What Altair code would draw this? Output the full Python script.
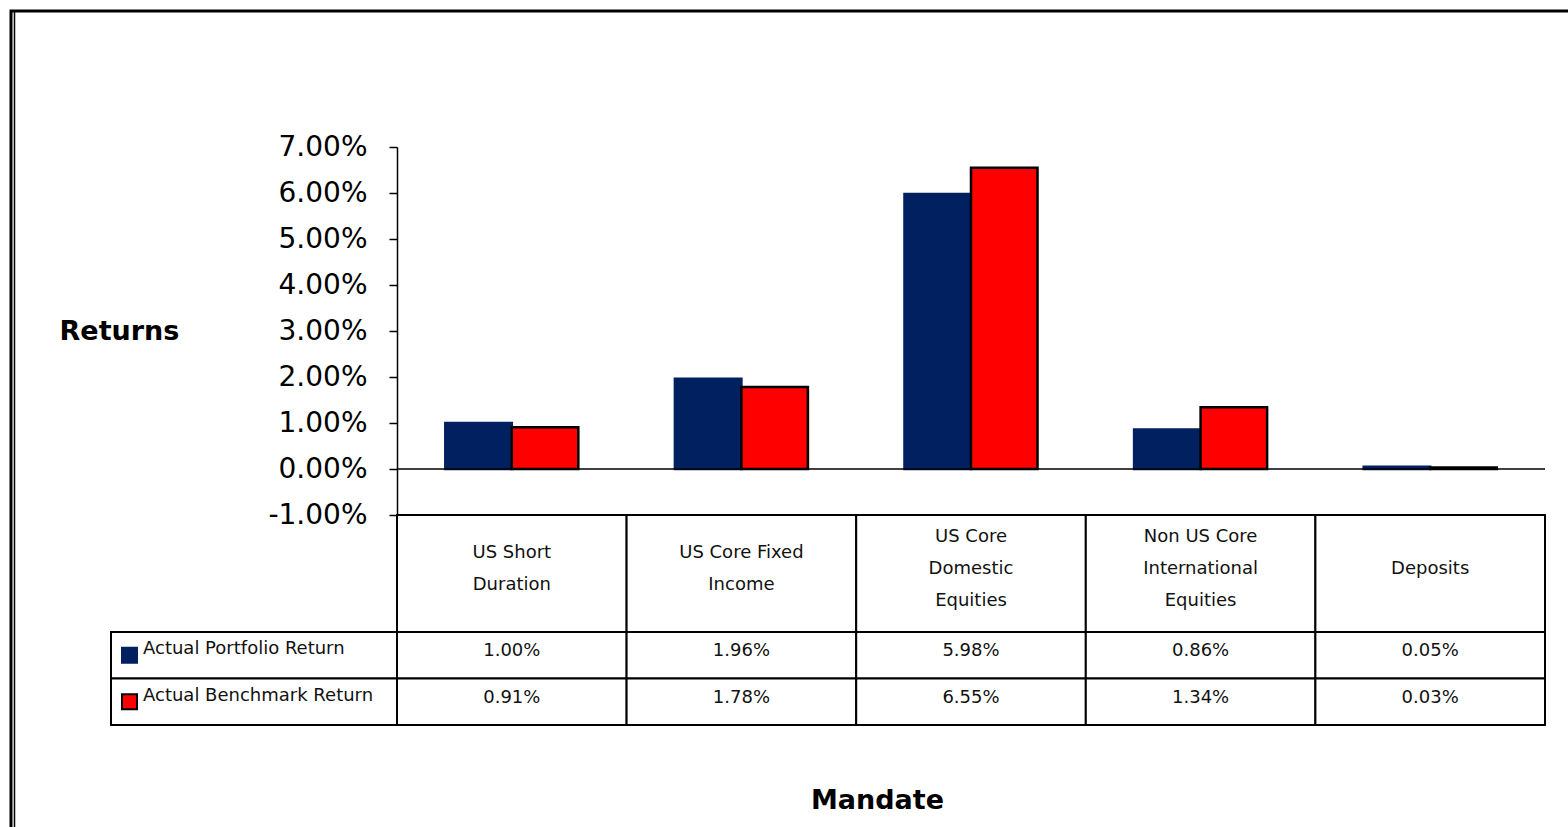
import altair as alt
import pandas as pd

categories = ["US Short Duration", "US Core Fixed Income", "US Core Domestic Equities",
              "Non US Core International Equities", "Deposits"]
category_lines = ["US Short\nDuration", "US Core Fixed\nIncome", "US Core\nDomestic\nEquities",
                  "Non US Core\nInternational\nEquities", "Deposits"]
series = ["Actual Portfolio Return", "Actual Benchmark Return"]
portfolio = [1.00, 1.96, 5.98, 0.86, 0.05]
benchmark = [0.91, 1.78, 6.55, 1.34, 0.03]
y_ticks = [-1, 0, 1, 2, 3, 4, 5, 6, 7]

W, H = 1148, 578
BAR_H = 368
HEAD_END = 485
LINE_H = 32
FONT = "DejaVu Sans"

rows = []
for i, c in enumerate(categories):
    rows.append({"category": c, "series": series[0], "value": portfolio[i]})
    rows.append({"category": c, "series": series[1], "value": benchmark[i]})
df = pd.DataFrame(rows)
head_df = pd.DataFrame({
    "category": categories,
    "label": category_lines,
    "nlines": [s.count("\n") + 1 for s in category_lines],
    "row": ["header"] * len(categories),
})
legend_df = pd.DataFrame({"series": series, "col": ["legend"] * len(series)})
zero_df = pd.DataFrame({"v": [0]})
frame_df = pd.DataFrame({"k": [0]})

x_scale = alt.Scale(domain=categories, paddingInner=0, paddingOuter=0)
y_bar_scale = alt.Scale(domain=[-1, 7], range=[BAR_H, 0], nice=False, zero=False)
head_scale = alt.Scale(domain=["header"], range=[BAR_H, HEAD_END], paddingInner=0, paddingOuter=0)
row_scale = alt.Scale(domain=series, range=[HEAD_END, H], paddingInner=0, paddingOuter=0)
leg_scale = alt.Scale(domain=["legend"], range=[-286, 0], paddingInner=0, paddingOuter=0)
sq_scale = alt.Scale(domain=["legend"], range=[-286, -249], paddingInner=0, paddingOuter=0)
color_scale = alt.Scale(domain=series, range=["#002060", "#FF0000"])
stroke_scale = alt.Scale(domain=series, range=["#002060", "#000000"])

frame = alt.Chart(frame_df).mark_rect(fillOpacity=0, stroke="black", strokeWidth=3).encode(
    x=alt.value(-386), y=alt.value(-136), x2=alt.value(W + 80), y2=alt.value(H + 160))
inner = alt.Chart(frame_df).mark_rule(color="black", strokeWidth=1.5).encode(
    x=alt.value(-382.5), y=alt.value(-135), y2=alt.value(H + 160))

bars = alt.Chart(df).mark_bar(strokeWidth=2.5).encode(
    x=alt.X("category:N", scale=x_scale, axis=None),
    xOffset=alt.XOffset("series:N", scale=alt.Scale(domain=series, paddingInner=0, paddingOuter=0.726)),
    y=alt.Y("value:Q", scale=y_bar_scale,
            axis=alt.Axis(values=y_ticks,
                          labelExpr="(datum.value < 0 ? '-' : '') + format(abs(datum.value), '.2f') + '%'",
                          labelFont=FONT, labelFontSize=28, labelColor="black", labelPadding=22,
                          tickSize=8, tickColor="black", tickWidth=1.5,
                          domainColor="black", domainWidth=1.5, grid=False,
                          title="Returns", titleAngle=0, titleX=-278, titleY=184,
                          titleAlign="center", titleBaseline="middle", titleFont=FONT,
                          titleFontSize=27, titleFontWeight="bold", titleColor="black")),
    color=alt.Color("series:N", scale=color_scale, legend=None),
    stroke=alt.Stroke("series:N", scale=stroke_scale, legend=None),
)

zero = alt.Chart(zero_df).mark_rule(color="black", strokeWidth=1.5).encode(
    y=alt.Y("v:Q", scale=y_bar_scale, axis=None))

cell_style = dict(fill="white", stroke="black", strokeWidth=2)
text_style = dict(font=FONT, fontSize=18, color="#111111")

head_rect = alt.Chart(head_df).mark_rect(**cell_style).encode(
    x=alt.X("category:N", scale=x_scale, axis=None),
    y=alt.Y("row:N", scale=head_scale, axis=None))

head_texts = []
for n in sorted(set(head_df["nlines"])):
    head_texts.append(
        alt.Chart(head_df).transform_filter(alt.datum.nlines == n).mark_text(
            lineBreak="\n", lineHeight=LINE_H, dy=-5 - (n - 1) * LINE_H / 2, **text_style
        ).encode(
            x=alt.X("category:N", scale=x_scale, axis=None),
            y=alt.Y("row:N", scale=head_scale, axis=None),
            text="label:N")
    )

val_rect = alt.Chart(df).mark_rect(**cell_style).encode(
    x=alt.X("category:N", scale=x_scale,
            axis=alt.Axis(orient="bottom", labels=False, ticks=False, domain=False, grid=False,
                          title="Mandate", titleX=480, titleY=75, titleAlign="center",
                          titleBaseline="middle", titleFont=FONT, titleFontSize=27,
                          titleFontWeight="bold", titleColor="black")),
    y=alt.Y("series:N", scale=row_scale, axis=None))
val_text = alt.Chart(df).transform_calculate(
    label="format(datum.value, '.2f') + '%'"
).mark_text(dy=-4, **text_style).encode(
    x=alt.X("category:N", scale=x_scale, axis=None),
    y=alt.Y("series:N", scale=row_scale, axis=None),
    text="label:N")

leg_rect = alt.Chart(legend_df).mark_rect(**cell_style).encode(
    x=alt.X("col:N", scale=leg_scale, axis=None),
    y=alt.Y("series:N", scale=row_scale, axis=None))
leg_text = alt.Chart(legend_df).mark_text(align="left", dx=-111, dy=-6, **text_style).encode(
    x=alt.X("col:N", scale=leg_scale, axis=None),
    y=alt.Y("series:N", scale=row_scale, axis=None),
    text="series:N")
leg_sq = alt.Chart(legend_df).mark_square(size=225, filled=True, opacity=1, strokeWidth=2).encode(
    x=alt.X("col:N", scale=sq_scale, axis=None),
    y=alt.Y("series:N", scale=row_scale, axis=None),
    color=alt.Color("series:N", scale=color_scale, legend=None),
    stroke=alt.Stroke("series:N", scale=stroke_scale, legend=None))

chart = alt.layer(
    frame, inner, bars, zero, head_rect, *head_texts, val_rect, val_text, leg_rect, leg_text, leg_sq
).resolve_scale(
    x="independent", y="independent"
).properties(
    width=W, height=H,
    padding={"left": 397, "top": 147, "right": 23, "bottom": 102},
    autosize=alt.AutoSizeParams(type="none"),
).configure_view(stroke=None)

chart.save("out.html", embed_options={"renderer": "svg", "actions": False})
